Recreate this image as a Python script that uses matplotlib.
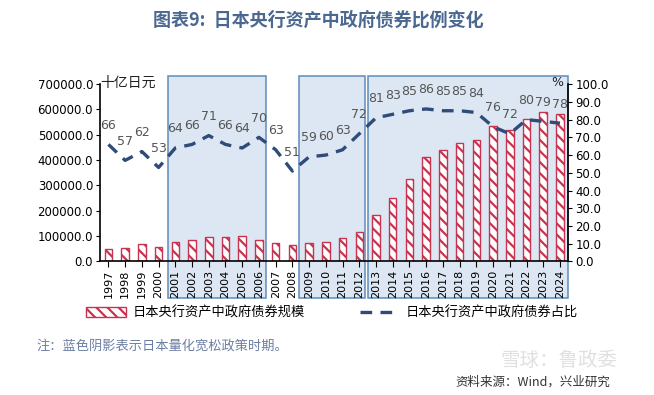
import numpy as np
import matplotlib.pyplot as plt
from matplotlib.patches import Rectangle, Patch
from matplotlib.lines import Line2D
import matplotlib.transforms as mtransforms

plt.rcParams['font.family'] = ['Noto Sans CJK SC', 'DejaVu Sans']
plt.rcParams['hatch.linewidth'] = 1.6
plt.rcParams['hatch.color'] = '#c8334f'

# data
years = [str(y) for y in range(1997, 2025)]
jgb_holdings = [50000, 54000, 71000, 58000, 77600, 85500, 96000, 97400, 101000, 83000,
                73700, 65800, 73700, 77600, 93400, 115800, 184000, 251300, 326300, 411800,
                440800, 468400, 480300, 535500, 519700, 563200, 590800, 582900]
jgb_share = [66, 57, 62, 53, 64, 66, 71, 66, 64, 70, 63, 51, 59, 60, 63, 72,
             81, 83, 85, 86, 85, 85, 84, 76, 72, 80, 79, 78]
qe_periods = [('2001', '2006'), ('2009', '2012'), ('2013', '2024')]

red = '#c8334f'
navy = '#2f4b78'
shade = '#dce7f3'
shade_edge = '#5f8cba'
# small insets so the shaded boxes sit like in the original (left, right)
insets = [(0.07, 0.07), (-0.08, 0.14), (0.04, 0.0)]

fig = plt.figure(figsize=(6.54, 3.95), dpi=100)
ax = fig.add_axes([0.153, 0.338, 0.716, 0.449])
ax2 = ax.twinx()

x = np.arange(len(years))

# shaded QE periods, extending over the tick labels
trans = mtransforms.blended_transform_factory(ax.transData, fig.transFigure)
for (s, e), (pl, pr) in zip(qe_periods, insets):
    i0 = years.index(s) - 0.5 + pl
    i1 = years.index(e) + 0.5 - pr
    rect = Rectangle((i0, 1 - 298 / 395), i1 - i0, (298 - 76) / 395, transform=trans,
                     facecolor=shade, edgecolor=shade_edge, linewidth=1.1,
                     clip_on=False, zorder=0)
    fig.patches.append(rect)

ax.set_zorder(2)
ax2.set_zorder(3)
ax.patch.set_visible(False)
ax2.patch.set_visible(False)

ax.bar(x, jgb_holdings, width=0.45, facecolor='white', edgecolor=red,
       hatch='\\\\\\', linewidth=1.0)
ax.set_xlim(-0.5, len(years) - 0.5)
ax.set_ylim(0, 700000)
ax.set_yticks(np.arange(0, 700001, 100000))
ax.set_yticklabels(['%.1f' % v for v in np.arange(0, 700001, 100000)],
                   family='DejaVu Sans', fontsize=8.5)
ax.set_xticks(x)
ax.set_xticklabels(years, rotation=90, family='DejaVu Sans', fontsize=8)
ax.tick_params(axis='x', length=4, pad=2)
ax.tick_params(axis='y', length=3, pad=2)
for sp in ['top', 'right']:
    ax.spines[sp].set_visible(False)
ax.spines['left'].set_linewidth(1.2)
ax.spines['bottom'].set_linewidth(1.2)

ax2.plot(x, jgb_share, color=navy, linewidth=2.4, linestyle=(0, (3.5, 2.5)))
for xi, v in zip(x, jgb_share):
    ax2.annotate(str(v), (xi, v), xytext=(0, 9), textcoords='offset points',
                 ha='center', va='bottom', fontsize=9, color='#555555',
                 family='DejaVu Sans')
ax2.set_ylim(0, 100)
ax2.set_yticks(np.arange(0, 101, 10))
ax2.set_yticklabels(['%.1f' % v for v in np.arange(0, 101, 10)],
                    family='DejaVu Sans', fontsize=8.5)
ax2.tick_params(axis='y', length=3, pad=2)
for sp in ['top', 'left', 'bottom']:
    ax2.spines[sp].set_visible(False)
ax2.spines['right'].set_linewidth(1.2)

fig.text(0.154, 1 - 83 / 395, '十亿日元', fontsize=10, color='#222222', va='center')
fig.text(0.843, 1 - 83 / 395, '%', fontsize=9, color='#222222', va='center',
         family='DejaVu Sans')

fig.text(0.487, 0.948, '图表9:  日本央行资产中政府债券比例变化', ha='center', va='center',
         fontsize=13, fontweight='bold', color='#4a6890')

handles = [Patch(facecolor='white', edgecolor=red, hatch='\\\\\\', linewidth=1.0),
           Line2D([0], [0], color=navy, linewidth=2.4, linestyle=(0, (3.5, 2.5)))]
fig.legend(handles, ['日本央行资产中政府债券规模', '日本央行资产中政府债券占比'],
           loc='center', bbox_to_anchor=(0.508, 1 - 313 / 395), ncol=2, frameon=False,
           fontsize=9.5, columnspacing=4.2, handlelength=3.0, handletextpad=0.5)

fig.text(0.055, 1 - 346 / 395, '注：蓝色阴影表示日本量化宽松政策时期。', fontsize=9.5,
         color='#6c7fa2', va='center')
fig.text(0.696, 1 - 382 / 395, '资料来源：Wind，兴业研究', fontsize=9, color='#333333',
         va='center')
fig.text(0.765, 1 - 360 / 395, '雪球：鲁政委', fontsize=14, color='#999999', alpha=0.3,
         va='center')

fig.savefig('out.png', dpi=100)
